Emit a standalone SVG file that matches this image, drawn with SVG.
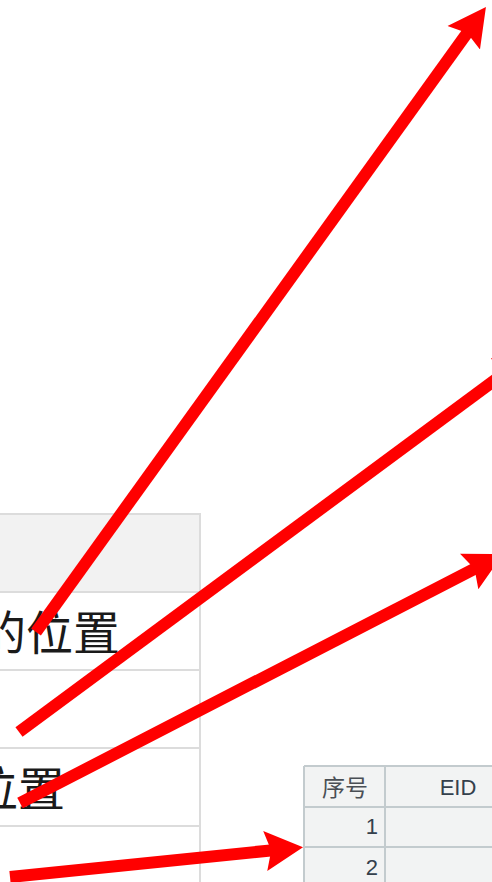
<svg xmlns="http://www.w3.org/2000/svg" width="492" height="882" viewBox="0 0 492 882">
<style>
.grid{stroke:#dcdcdc;stroke-width:2;fill:none}
.cjk{font-family:"Noto Sans CJK SC","Noto Sans",sans-serif;fill:#1a1a1a}
.g2{stroke:#c3cbce;stroke-width:2;fill:none}
.t2{font-family:"Noto Sans CJK SC","Noto Sans",sans-serif;fill:#4a4f55;font-size:23px}
.num{font-family:"Liberation Sans",Arial,sans-serif;fill:#34404c;font-size:22px}
.arrow{stroke:#ff0000;stroke-width:12;fill:none;marker-end:url(#head)}
</style>
<defs>
<marker id="head" markerUnits="userSpaceOnUse" markerWidth="40" markerHeight="42" viewBox="0 -21 40 42" refX="8" refY="0" orient="auto">
<path d="M0,-20 L38,0 L0,20 L6,0 Z" fill="#ff0000"/>
</marker>
</defs>
<rect width="492" height="882" fill="#ffffff"/>
<g id="table-left">
<rect x="-10" y="514" width="210" height="380" fill="#ffffff"/>
<rect x="-10" y="514" width="210" height="78" fill="#f2f2f2"/>
<path class="grid" d="M-10,514 H200 V890 M-10,592 H200 M-10,670 H200 M-10,748 H200 M-10,826 H200"/>
<text class="cjk" x="120" y="650" font-size="47" text-anchor="end">的位置</text>
<text class="cjk" x="65" y="806" font-size="47" text-anchor="end">位置</text>
</g>
<g id="table-right">
<rect x="304" y="766" width="200" height="130" fill="#f2f3f3"/>
<path class="g2" d="M304,766 H500 M304,766 V890 M385,766 V890 M304,807 H500 M304,847 H500"/>
<text class="t2" x="345" y="796" text-anchor="middle">序号</text>
<text class="num" x="458" y="795" text-anchor="middle">EID</text>
<text class="num" x="378" y="834" text-anchor="end">1</text>
<text class="num" x="378" y="875" text-anchor="end">2</text>
</g>
<g id="connectors">
<line class="arrow" x1="36" y1="632" x2="468.4" y2="31.3"/>
<line class="arrow" x1="19" y1="732" x2="508.9" y2="369.8"/>
<line class="arrow" x1="20" y1="803" x2="476.3" y2="567.8"/>
<line class="arrow" x1="10" y1="877" x2="273.2" y2="850.2"/>
</g>
</svg>
